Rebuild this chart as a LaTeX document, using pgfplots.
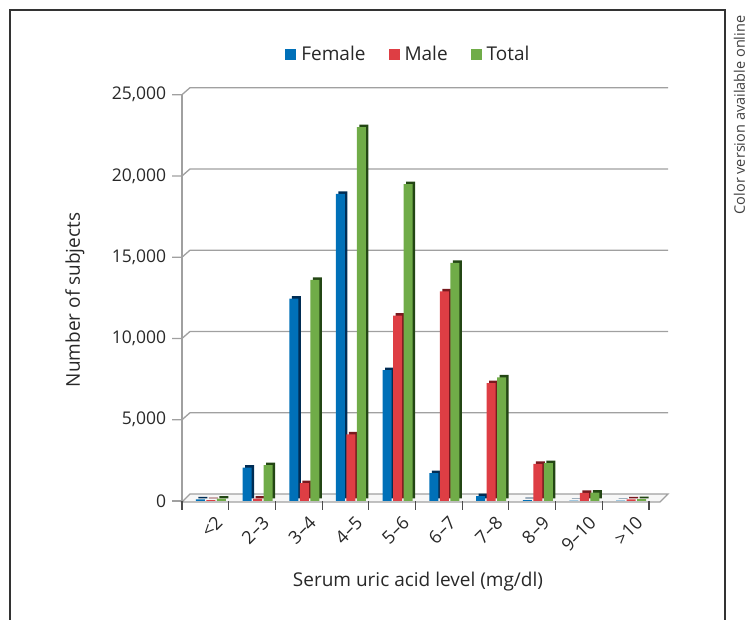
\documentclass[border=0pt]{standalone}
\usepackage{fontspec}
\setmainfont{Open Sans}
\usepackage{pgfplots}
\pgfplotsset{compat=1.18}
\definecolor{cF}{RGB}{0,112,184}
\definecolor{cM}{RGB}{222,62,68}
\definecolor{cT}{RGB}{112,172,72}
\definecolor{dF}{RGB}{0,45,85}
\definecolor{dM}{RGB}{120,25,30}
\definecolor{dT}{RGB}{35,70,20}
\definecolor{txt}{RGB}{40,40,40}
\definecolor{grd}{RGB}{160,160,160}

\pgfplotstableread{
x F M T
0 100 50 150
1 2050 150 2200
2 12450 1100 13600
3 18900 4100 23000
4 8050 11400 19500
5 1720 12900 14650
6 300 7250 7600
7 50 2280 2330
8 20 500 520
9 20 100 120
}\uric

\begin{document}
\begin{tikzpicture}[x=1pt,y=1pt,font=\fontsize{19}{22}\selectfont,text=txt]
\path[use as bounding box] (0,0) rectangle (747,620);
% frame
\draw[line width=1.6pt,black!80] (10,-2) -- (10,610) -- (725,610) -- (725,-2);
\node[rotate=90,inner sep=0pt,font=\fontsize{14.5}{17}\selectfont,text=black!75] at (739.5,505) {Color version available online};
% back wall grid lines and floor (grid step 5000 = 81.26pt)
\foreach \v in {1,...,5}{
  \pgfmathsetmacro{\yy}{119+\v*81.26}
  \draw[grd,line width=1.3pt] (172,\yy) -- (182,\yy) -- (190,\yy+7) -- (668,\yy+7);
}
\draw[grd,line width=1.3pt,fill=black!3] (182,118) -- (190,126) -- (668,126) -- (660,118) -- cycle;
\draw[grd,line width=1.8pt] (182,119) -- (182,526);
\draw[grd,line width=1.3pt] (172,119) -- (182,119);
\begin{axis}[
  at={(182pt,119pt)}, anchor=south west,
  scale only axis, width=467pt, height=406.3pt,
  xmin=-0.5, xmax=9.5, ymin=0, ymax=25000,
  axis line style={draw=none},
  ybar, bar width=9pt,
  xtick={0,...,9},
  xticklabels={<2,2–3,3–4,4–5,5–6,6–7,7–8,8–9,9–10,>10},
  major x tick style={draw=none},
  minor xtick={-0.5,0.5,...,9.5},
  minor x tick style={black!70,line width=1.1pt},
  minor tick length=9pt,
  x tick label style={rotate=45,anchor=east,xshift=3pt,yshift=-20pt,font=\fontsize{18}{20}\selectfont},
  ytick={0,5000,...,25000},
  yticklabel style={/pgf/number format/fixed,/pgf/number format/1000 sep={,},xshift=-8pt,font=\fontsize{17.5}{20}\selectfont},
  /pgf/number format/assume math mode=true,
  ytick style={draw=none},
  tick align=outside,
  xtick pos=bottom,
  scaled y ticks=false,
  clip=false,
  legend style={at={(axis description cs:0.488,1.10)},anchor=center,draw=none,fill=none,
    legend columns=3,/tikz/every even column/.append style={column sep=18pt},
    nodes={inner xsep=5pt}},
  legend image code/.code={\fill[#1] (0pt,-5.5pt) rectangle (11pt,5.5pt);},
]
\addplot[forget plot,fill=dF,draw=none,bar shift=-2.5pt,yshift=2.5pt] table[x=x,y=F]{\uric};
\addplot[fill=cF,draw=none,bar shift=-5pt] table[x=x,y=F]{\uric};
\addplot[forget plot,fill=dM,draw=none,bar shift=8pt,yshift=2.5pt] table[x=x,y=M]{\uric};
\addplot[fill=cM,draw=none,bar shift=5.5pt] table[x=x,y=M]{\uric};
\addplot[forget plot,fill=dT,draw=none,bar shift=18.5pt,yshift=2.5pt] table[x=x,y=T]{\uric};
\addplot[fill=cT,draw=none,bar shift=16pt] table[x=x,y=T]{\uric};
\legend{Female,Male,Total}
\end{axis}
\node at (418,38) {Serum uric acid level (mg/dl)};
\node[rotate=90] at (75,320) {Number of subjects};
\end{tikzpicture}
\end{document}
